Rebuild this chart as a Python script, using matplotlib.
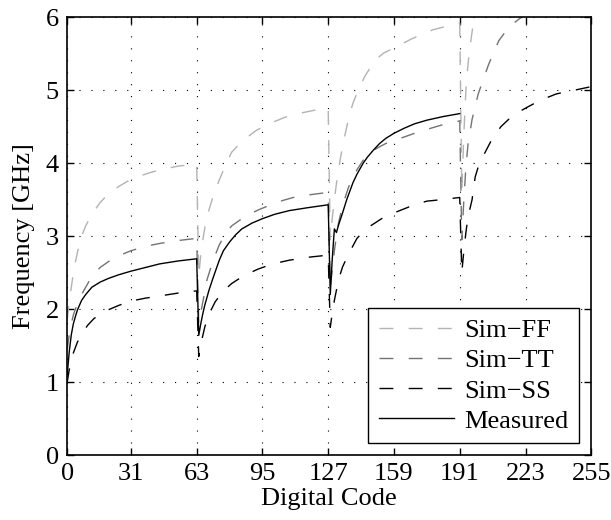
import matplotlib
matplotlib.use("Agg")
import matplotlib.pyplot as plt

# Oscillator tuning curves: frequency versus 8-bit digital code (4 coarse bands)
ff_code = [0, 1, 2, 3, 4, 5, 7, 9, 12, 16, 20, 25, 31, 38, 45, 54, 63,
           64, 65, 66, 67, 69, 71, 74, 77, 80, 85, 92, 99, 106, 114, 121, 127,
           128, 129, 130, 131, 132, 133, 135, 137, 139, 142, 145, 150, 154, 159,
           168, 178, 185, 191,
           192, 193, 194, 195, 196, 197, 198, 200]
ff_freq = [1.85, 2.1, 2.3, 2.5, 2.65, 2.78, 3.0, 3.14, 3.3, 3.46, 3.58, 3.68, 3.78,
           3.85, 3.91, 3.96, 3.99,
           2.45, 2.75, 2.95, 3.12, 3.36, 3.55, 3.77, 3.97, 4.15, 4.3, 4.45, 4.55,
           4.63, 4.69, 4.73, 4.75,
           2.95, 3.25, 3.5, 3.72, 3.9, 4.08, 4.37, 4.62, 4.82, 5.03, 5.2, 5.42,
           5.51, 5.58, 5.71, 5.83, 5.88, 5.92,
           3.6, 4.4, 5.0, 5.35, 5.6, 5.8, 5.98, 6.1]

tt_code = [0, 1, 2, 3, 4, 5, 7, 9, 12, 16, 20, 25, 31, 38, 45, 54, 63,
           64, 65, 66, 68, 71, 74, 77, 80, 84, 88, 93, 99, 105, 110, 116, 127,
           128, 129, 130, 131, 132, 134, 137, 141, 144, 147, 151, 155, 162, 170,
           177, 183, 191,
           192, 193, 194, 195, 197, 200, 205, 210, 215, 220, 224]
tt_freq = [1.45, 1.65, 1.8, 1.92, 2.0, 2.08, 2.2, 2.3, 2.45, 2.57, 2.65, 2.73, 2.8,
           2.86, 2.9, 2.94, 2.97,
           1.8, 1.95, 2.1, 2.4, 2.67, 2.88, 3.04, 3.14, 3.22, 3.29, 3.36, 3.43,
           3.49, 3.53, 3.56, 3.6,
           2.3, 2.55, 2.8, 3.0, 3.18, 3.42, 3.68, 3.91, 4.04, 4.14, 4.21, 4.27,
           4.34, 4.42, 4.48, 4.53, 4.58,
           2.95, 3.5, 3.95, 4.25, 4.6, 4.95, 5.35, 5.68, 5.87, 5.98, 6.05]

ss_code = [0, 1, 2, 3, 5, 8, 10, 13, 16, 20, 25, 31, 38, 45, 54, 63,
           64, 65, 67, 69, 72, 76, 80, 86, 93, 100, 108, 117, 127,
           128, 129, 130, 132, 134, 137, 141, 144, 147, 153, 160, 168, 175, 182, 191,
           192, 193, 194, 195, 197, 198.5, 200, 203, 206.5, 211, 217, 224, 230,
           238, 245, 255]
ss_freq = [1.0, 1.17, 1.3, 1.4, 1.55, 1.7, 1.78, 1.87, 1.93, 1.99, 2.05, 2.11, 2.15,
           2.18, 2.22, 2.25,
           1.35, 1.52, 1.76, 1.93, 2.1, 2.25, 2.35, 2.46, 2.55, 2.62, 2.67, 2.71, 2.74,
           1.75, 1.95, 2.12, 2.4, 2.58, 2.76, 2.97, 3.06, 3.13, 3.24, 3.33, 3.42,
           3.48, 3.5, 3.53,
           2.5, 2.8, 3.05, 3.26, 3.5, 3.81, 3.95, 4.13, 4.32, 4.5, 4.66, 4.77, 4.86,
           4.95, 4.99, 5.05]

meas_code = [0, 1, 2, 3, 4, 5, 7, 9, 12, 16, 20, 25, 31, 38, 45, 54, 63,
             64, 65, 66, 67, 69, 71, 74, 76, 79, 82, 85, 90, 95, 101, 108, 117, 127,
             128, 129, 130, 131, 132, 134, 136, 139, 141, 144, 146, 149, 152, 155,
             159, 164, 169, 175, 183, 191]
meas_freq = [1.1, 1.42, 1.65, 1.8, 1.9, 1.99, 2.12, 2.2, 2.3, 2.37, 2.42, 2.47, 2.52,
             2.57, 2.62, 2.66, 2.69,
             1.64, 1.8, 1.94, 2.06, 2.26, 2.43, 2.67, 2.8, 2.92, 3.02, 3.1, 3.18,
             3.24, 3.3, 3.35, 3.39, 3.43,
             2.2, 2.7, 3.1, 3.05, 3.15, 3.32, 3.5, 3.73, 3.85, 4.0, 4.08, 4.18, 4.27,
             4.34, 4.41, 4.48, 4.54, 4.59, 4.64, 4.68]

x_ticks = [0, 31, 63, 95, 127, 159, 191, 223, 255]
y_ticks = [0, 1, 2, 3, 4, 5, 6]

plt.rcParams['font.family'] = ['Liberation Serif', 'DejaVu Serif']
FS = 19

fig = plt.figure(figsize=(6.11, 5.2), dpi=100)
ax = fig.add_axes([0.110, 0.125, 0.8577, 0.8417])

dash = (10, 11)
ax.plot(ff_code, ff_freq, color=(0.70, 0.70, 0.70), lw=1.0, dashes=dash, label='Sim\u2212FF')
ax.plot(tt_code, tt_freq, color=(0.45, 0.45, 0.45), lw=1.0, dashes=dash, label='Sim\u2212TT')
ax.plot(ss_code, ss_freq, color='black', lw=1.0, dashes=dash, label='Sim\u2212SS')
ax.plot(meas_code, meas_freq, color='black', lw=1.0, label='Measured')

ax.set_xlim(0, 255)
ax.set_ylim(0, 6)
ax.set_xticks(x_ticks)
ax.set_yticks(y_ticks)
ax.tick_params(direction='in', length=5, width=1, top=True, right=True,
               labelsize=FS, pad=6)
for sp in ax.spines.values():
    sp.set_linewidth(1.2)

ax.grid(True, color='black', linestyle=(0, (1, 9.75)), linewidth=0.8)

ax.set_xlabel('Digital Code', fontsize=FS, labelpad=2)
ax.set_ylabel('Frequency [GHz]', fontsize=FS, labelpad=8)

leg = ax.legend(loc='lower right', fontsize=FS, fancybox=False, framealpha=1,
                edgecolor='black', borderaxespad=0.45, handlelength=2.85,
                handletextpad=0.4, labelspacing=0.25, borderpad=0.4)
leg.get_frame().set_linewidth(1.0)

fig.savefig('out.png', dpi=100)
